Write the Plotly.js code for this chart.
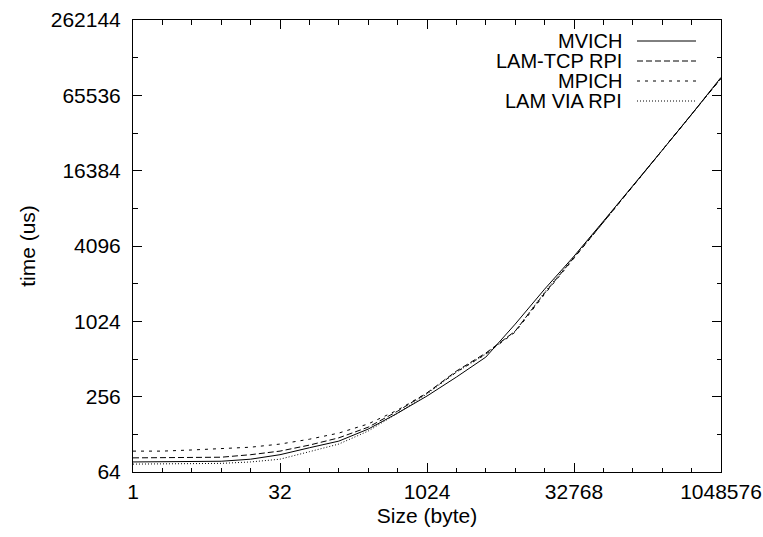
<!DOCTYPE html>
<html>
<head>
<meta charset="utf-8">
<script src="https://cdn.plot.ly/plotly-3.0.1.min.js"></script>
<style>html,body{margin:0;padding:0;background:#fff;}#chart{width:763px;height:537px;}</style>
</head>
<body>
<div id="chart"></div>
<script>
const sizes = [1,2,4,8,16,32,64,128,256,512,1024,2048,4096,8192,16384,32768,65536,131072,262144,524288,1048576];
const mvich  = [77,77,77,78,81,88,100,113,141,189,259,367,530,973,1851,3395,6464,12300,23840,46200,91200];
const lamTcp = [83,83,84,84,88,94,105,120,146,196,274,410,571,855,1720,3273,6343,12300,23840,46200,89600];
const mpich  = [94,94,96,98,101,107,117,131,155,200,274,402,560,840,1688,3273,6343,12300,23840,46200,89600];
const lamVia = [74,74,75,75,77,81,93,107,136,189,269,402,560,855,1752,3334,6343,12300,23840,46200,89600];
const seriesNames = ["MVICH","LAM-TCP RPI","MPICH","LAM VIA RPI"];
const xTicks = [1,32,1024,32768,1048576];
const yTicks = [64,256,1024,4096,16384,65536,262144];
const xMinor = [2,4,8,16,64,128,256,512,2048,4096,8192,16384,65536,131072,262144,524288];
const yMinor = [128,512,2048,8192,32768,131072];

const dashes = ["solid","6px,3px","3px,5px","1px,2px"];
const data = [mvich, lamTcp, mpich, lamVia];
const font = "Liberation Sans, Arial, sans-serif";
const fs = 21;

const traces = data.map((ys,i)=>({
  x: sizes, y: ys, type:"scatter", mode:"lines", name: seriesNames[i],
  line:{color:"#000", width:1, dash:dashes[i]}, showlegend:false
}));

// manual gnuplot-style legend (text right-aligned, sample on right)
const annotations = [];
const shapes = [];
seriesNames.forEach((n,i)=>{
  const yp = 41 + i*20;
  annotations.push({xref:"paper", yref:"paper", x:(623-133)/588, y:(472-yp)/452, xanchor:"right", yanchor:"middle",
    text:n, showarrow:false, borderpad:0, font:{family:font, size:20, color:"#000"}});
  shapes.push({type:"line", xref:"paper", yref:"paper", x0:(637-133)/588, x1:(696-133)/588, y0:(472-yp)/452, y1:(472-yp)/452,
    line:{color:"#000", width:1, dash:dashes[i]}});
});

const axisCommon = {
  type:"log", showgrid:false, zeroline:false, showline:true, linecolor:"#000", linewidth:1,
  mirror:"ticks", ticks:"inside", ticklen:9, tickcolor:"#000", tickwidth:1,
  tickfont:{family:font, size:fs, color:"#000"}, tickmode:"array"
};

const layout = {
  width:763, height:537,
  margin:{l:133, r:42, t:20, b:65},
  paper_bgcolor:"#fff", plot_bgcolor:"#fff",
  font:{family:font, size:fs, color:"#000"},
  xaxis: Object.assign({}, axisCommon, {
    range:[0, Math.log10(1048576)], tickvals:xTicks, ticktext:xTicks.map(String),
    minor:{tickmode:"array", tickvals:xMinor, ticks:"inside", ticklen:4.5, tickcolor:"#000", showgrid:false},
    ticklabelstandoff:1,
    title:{text:"Size (byte)", font:{family:font, size:fs, color:"#000"}, standoff:6}
  }),
  yaxis: Object.assign({}, axisCommon, {
    range:[Math.log10(64), Math.log10(262144)], tickvals:yTicks, ticktext:yTicks.map(String),
    minor:{tickmode:"array", tickvals:yMinor, ticks:"inside", ticklen:4.5, tickcolor:"#000", showgrid:false},
    ticklabelstandoff:7,
    title:{text:"time (us)", font:{family:font, size:fs, color:"#000"}, standoff:9}
  }),
  annotations: annotations,
  shapes: shapes
};

Plotly.newPlot("chart", traces, layout, {staticPlot:true, displayModeBar:false});
</script>
</body>
</html>
